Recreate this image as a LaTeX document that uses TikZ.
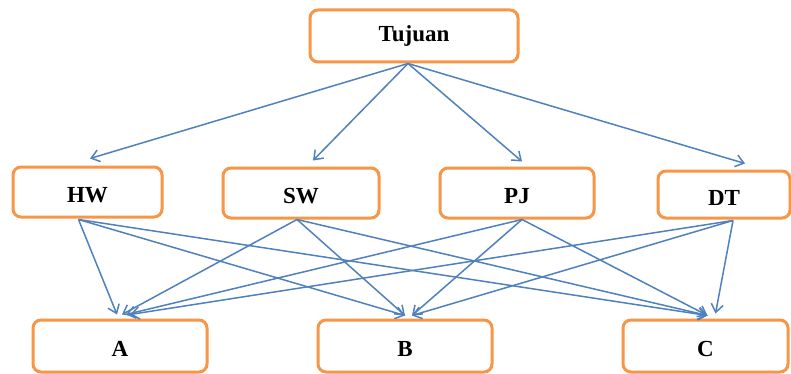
\documentclass[tikz,border=0pt]{standalone}
\usepackage{fontspec}
\setmainfont{Liberation Serif}
\usetikzlibrary{arrows.meta,calc}
\definecolor{boxorange}{HTML}{F79646}
\definecolor{linkblue}{HTML}{4F81BD}
\begin{document}
\begin{tikzpicture}[x=1pt,y=-1pt,
  box/.style={draw=boxorange,line width=3pt,rounded corners=8pt,fill=white,
    font=\fontsize{23}{26}\selectfont\bfseries,inner sep=0pt},
  low/.style={text height=21pt,text depth=0pt},
  conn/.style={draw=linkblue,line width=1.5pt,-{Straight Barb[length=8pt,width=12pt,line width=1.5pt]}}]
\useasboundingbox (0,0) rectangle (791,374);
\fill[white] (0,0) rectangle (791,374);
% top
\node[box,minimum width=208pt,minimum height=52pt] (T) at (414,36) {Tujuan};
% middle
\node[box,low,minimum width=149pt,minimum height=50pt] (HW) at (87.5,192) {HW};
\node[box,low,minimum width=156pt,minimum height=50pt] (SW) at (301,193) {SW};
\node[box,low,minimum width=154pt,minimum height=50pt] (PJ) at (517,193) {PJ};
\node[box,low,minimum width=132pt,minimum height=47pt] (DT) at (724,194.5) {DT};
% bottom
\node[box,low,minimum width=174pt,minimum height=52pt] (A) at (120,346) {A};
\node[box,low,minimum width=174pt,minimum height=52pt] (B) at (405,346) {B};
\node[box,low,minimum width=165pt,minimum height=52pt] (C) at (705.5,346) {C};
% top arrows
\draw[conn] ($(T.south)+(-6,0)$) -- ($(HW.north)+(2.5,-7)$);
\draw[conn] ($(T.south)+(-6,0)$) -- ($(SW.north)+(12,-6)$);
\draw[conn] ($(T.south)+(-6,0)$) -- ($(PJ.north)+(5,-5)$);
\draw[conn] ($(T.south)+(-6,0)$) -- ($(DT.north)+(21,-6)$);
% HW
\draw[conn] ($(HW.south)+(-9,1)$) -- ($(A.north)+(-3,-4)$);
\draw[conn] ($(HW.south)+(-9,1)$) -- ($(B.north)+(0,-3)$);
\draw[conn] ($(HW.south)+(-9,1)$) -- ($(C.north)+(2,-3)$);
% SW
\draw[conn] ($(SW.south)+(-4,0)$) -- ($(A.north)+(2,-4)$);
\draw[conn] ($(SW.south)+(-4,0)$) -- ($(B.north)+(0,-3)$);
\draw[conn] ($(SW.south)+(-4,0)$) -- ($(C.north)+(2,-3)$);
% PJ
\draw[conn] ($(PJ.south)+(5,0)$) -- ($(A.north)+(6,-4)$);
\draw[conn] ($(PJ.south)+(5,0)$) -- ($(B.north)+(7,-3)$);
\draw[conn] ($(PJ.south)+(5,0)$) -- ($(C.north)+(2,-3)$);
% DT
\draw[conn] ($(DT.south)+(9,1)$) -- ($(A.north)+(10,-4)$);
\draw[conn] ($(DT.south)+(9,1)$) -- ($(B.north)+(7,-3)$);
\draw[conn] ($(DT.south)+(9,1)$) -- ($(C.north)+(10,-5)$);
\end{tikzpicture}
\end{document}
